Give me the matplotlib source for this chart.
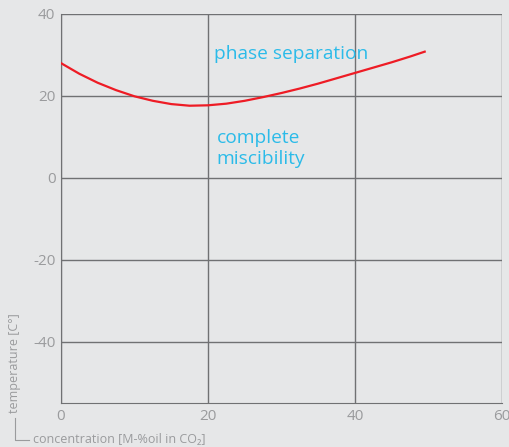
import matplotlib
matplotlib.use("Agg")
import matplotlib.pyplot as plt
from matplotlib.lines import Line2D

# curve
conc = [0, 2.5, 5, 7.5, 10, 12.5, 15, 17.5, 20, 22.5, 25, 27.5, 30,
        32.5, 35, 37.5, 40, 42.5, 45, 47.5, 49.5]
temp = [28.0, 25.4, 23.2, 21.4, 19.9, 18.8, 18.0, 17.6, 17.7, 18.1, 18.8,
        19.7, 20.7, 21.8, 23.0, 24.3, 25.6, 26.9, 28.2, 29.6, 30.8]

x_ticks = [0, 20, 40, 60]
y_ticks = [-40, -20, 0, 20, 40]

bg = "#e6e7e8"
grid_c = "#707173"
tick_c = "#9a9b9d"
blue = "#2bbbe9"

plt.rcParams['font.family'] = ['Open Sans', 'DejaVu Sans']
plt.rcParams['axes.unicode_minus'] = False

fig = plt.figure(figsize=(5.1, 4.47), dpi=100, facecolor=bg)
ax = fig.add_axes([0.1196, 0.0984, 0.8644, 0.8703])
ax.set_facecolor(bg)

ax.plot(conc, temp, color="#ee1c25", lw=1.6, zorder=3)

ax.set_xlim(0, 60)
ax.set_ylim(-55, 40)
ax.set_xticks(x_ticks)
ax.set_yticks(y_ticks)
ax.grid(True, color=grid_c, lw=1.0)
for s in ax.spines.values():
    s.set_visible(False)
ax.spines['left'].set_visible(True)
ax.spines['left'].set_color(grid_c)
ax.spines['bottom'].set_visible(True)
ax.spines['bottom'].set_color(grid_c)
ax.tick_params(length=0, colors=tick_c, labelsize=11, pad=4)

ax.text(20.8, 30.2, "phase separation", color=blue, fontsize=13.8, va="center")
ax.text(21.2, 7.1, "complete\nmiscibility", color=blue, fontsize=13.8,
        va="center", linespacing=1.25)

fig.text(0.029, 0.075, "temperature [C°]", rotation=90, color=tick_c,
         fontsize=9, ha="center", va="bottom")
fig.add_artist(Line2D([0.029, 0.029, 0.057], [0.065, 0.016, 0.016],
                      color=tick_c, lw=0.8, transform=fig.transFigure))
fig.text(0.064, 0.016, "concentration [M-%oil in CO₂]", color=tick_c,
         fontsize=9, va="center")

fig.savefig("out.png", dpi=100, facecolor=bg)
